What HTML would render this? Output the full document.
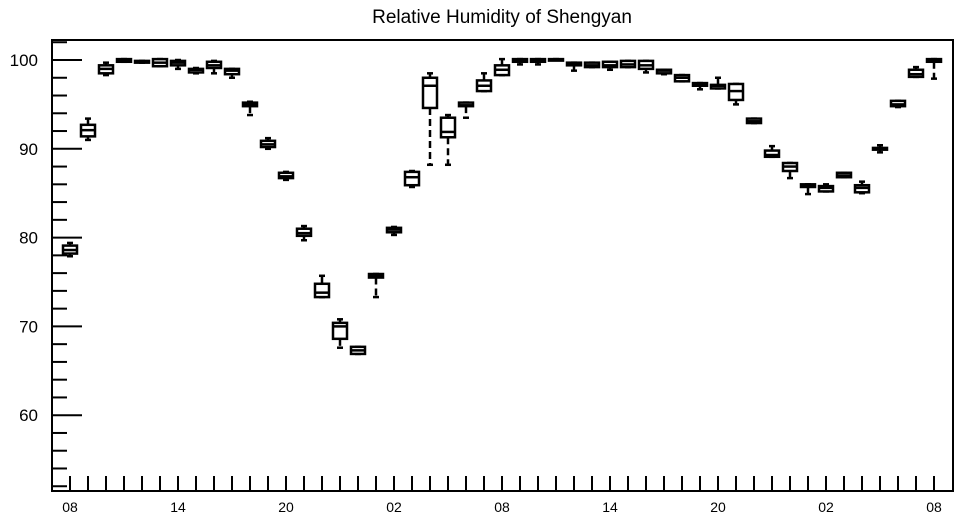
<!DOCTYPE html>
<html><head><meta charset="utf-8"><style>
body{margin:0;background:#fff;}
svg{display:block;font-family:"Liberation Sans",sans-serif;}
</style></head><body>
<svg id="chart" width="957" height="520" viewBox="0 0 957 520">
<text x="502" y="23" text-anchor="middle" font-size="19">Relative Humidity of Shengyan</text>
<rect x="52" y="40" width="901" height="451" fill="none" stroke="#000" stroke-width="2"/>
<g id="axes"></g><g id="boxes"></g>
</svg>
<script>
const hourLabels=["08","14","20","02","08","14","20","02","08"];
const yTicks=[60,70,80,90,100];
const mins=[77.9,91.0,98.3,99.8,99.7,99.3,99.0,98.5,98.5,98.0,93.8,90.0,86.5,79.7,73.3,67.6,66.9,73.3,80.3,85.7,88.2,88.2,93.5,96.5,98.3,99.5,99.5,100,98.8,99.2,98.9,99.2,98.6,98.4,97.6,96.7,96.8,95.0,92.9,89.1,86.7,84.9,85.2,86.8,85.0,89.6,94.7,98.1,97.9];
const q1s=[78.2,91.4,98.5,99.8,99.7,99.3,99.4,98.6,99.1,98.4,94.8,90.2,86.7,80.2,73.3,68.6,66.9,75.5,80.6,85.9,94.6,91.3,94.8,96.5,98.3,99.8,99.8,100,99.4,99.2,99.2,99.2,99.0,98.5,97.6,97.1,96.8,95.5,92.9,89.1,87.5,85.7,85.2,86.8,85.1,89.9,94.8,98.1,99.8];
const meds=[78.6,92.1,99.0,99.9,99.8,99.7,99.7,98.9,99.4,98.8,95.0,90.5,86.9,80.5,73.8,70.0,67.3,75.7,80.9,86.8,97.1,91.9,94.9,97.1,98.9,99.9,99.9,100,99.5,99.4,99.4,99.5,99.4,98.8,98.0,97.2,97.1,96.5,93.1,89.3,88.0,85.8,85.6,87.0,85.6,90.0,95.0,98.4,99.9];
const q3s=[79.1,92.7,99.4,100.1,99.9,100.1,99.9,99.0,99.8,99.0,95.2,90.9,87.3,81.0,74.8,70.4,67.7,75.9,81.1,87.4,98.0,93.5,95.2,97.7,99.4,100.1,100.1,100.1,99.7,99.7,99.8,99.9,99.9,98.9,98.3,97.4,97.2,97.3,93.4,89.8,88.4,86.0,85.8,87.3,85.9,90.1,95.4,98.9,100.1];
const maxs=[79.4,93.4,99.7,100.1,99.9,100.1,100,99.1,99.9,99.0,95.3,91.2,87.4,81.3,75.7,70.8,67.7,75.9,81.2,87.5,98.5,93.8,95.2,98.5,100.1,100.1,100.1,100.1,99.7,99.7,99.8,99.9,99.9,98.9,98.3,97.4,98.0,97.3,93.4,90.3,88.4,86.0,86.0,87.3,86.3,90.4,95.4,99.2,100.1];
const NS="http://www.w3.org/2000/svg";
const yS=v=>60+(100-v)*8.88;
const xS=i=>70+18*i;
function mk(t,a,p){const e=document.createElementNS(NS,t);for(const k in a)e.setAttribute(k,a[k]);p.appendChild(e);return e;}
const axes=document.getElementById('axes');
for(let v=52;v<=102;v+=2){
  const major=v%10===0;
  const t=mk('line',{x1:52,x2:major?82:67,y1:yS(v),y2:yS(v),stroke:'#000','stroke-width':2},axes);
  
  
}
yTicks.forEach(v=>{
  const t=mk('text',{x:38,y:yS(v)+6,'text-anchor':'end','font-size':17},axes);
  t.textContent=v;
  
  
});
for(let i=0;i<mins.length;i++){
  const t=mk('line',{x1:xS(i),x2:xS(i),y1:476,y2:491,stroke:'#000','stroke-width':2},axes);
  
  
}
hourLabels.forEach((h,k)=>{
  const t=mk('text',{x:xS(k*6),y:512,'text-anchor':'middle','font-size':14},axes);
  t.textContent=h;
  
  
});
const boxes=document.getElementById('boxes');
for(let i=0;i<mins.length;i++){
  const g=mk('g',{stroke:'#000','stroke-width':2.5,fill:'#fff'},boxes);
  
  
  const x=xS(i);
  mk('line',{x1:x,x2:x,y1:yS(q3s[i]),y2:yS(maxs[i]),'stroke-dasharray':'7,4'},g);
  mk('line',{x1:x,x2:x,y1:yS(q1s[i]),y2:yS(mins[i]),'stroke-dasharray':'7,4'},g);
  mk('line',{x1:x-3,x2:x+3,y1:yS(maxs[i]),y2:yS(maxs[i])},g);
  mk('line',{x1:x-3,x2:x+3,y1:yS(mins[i]),y2:yS(mins[i])},g);
  const top=yS(q3s[i]),bot=yS(q1s[i]);
  mk('rect',{x:x-7,y:top,width:14,height:Math.max(bot-top,1.5)},g);
  mk('line',{x1:x-7,x2:x+7,y1:yS(meds[i]),y2:yS(meds[i])},g);
}
</script>
</body></html>
